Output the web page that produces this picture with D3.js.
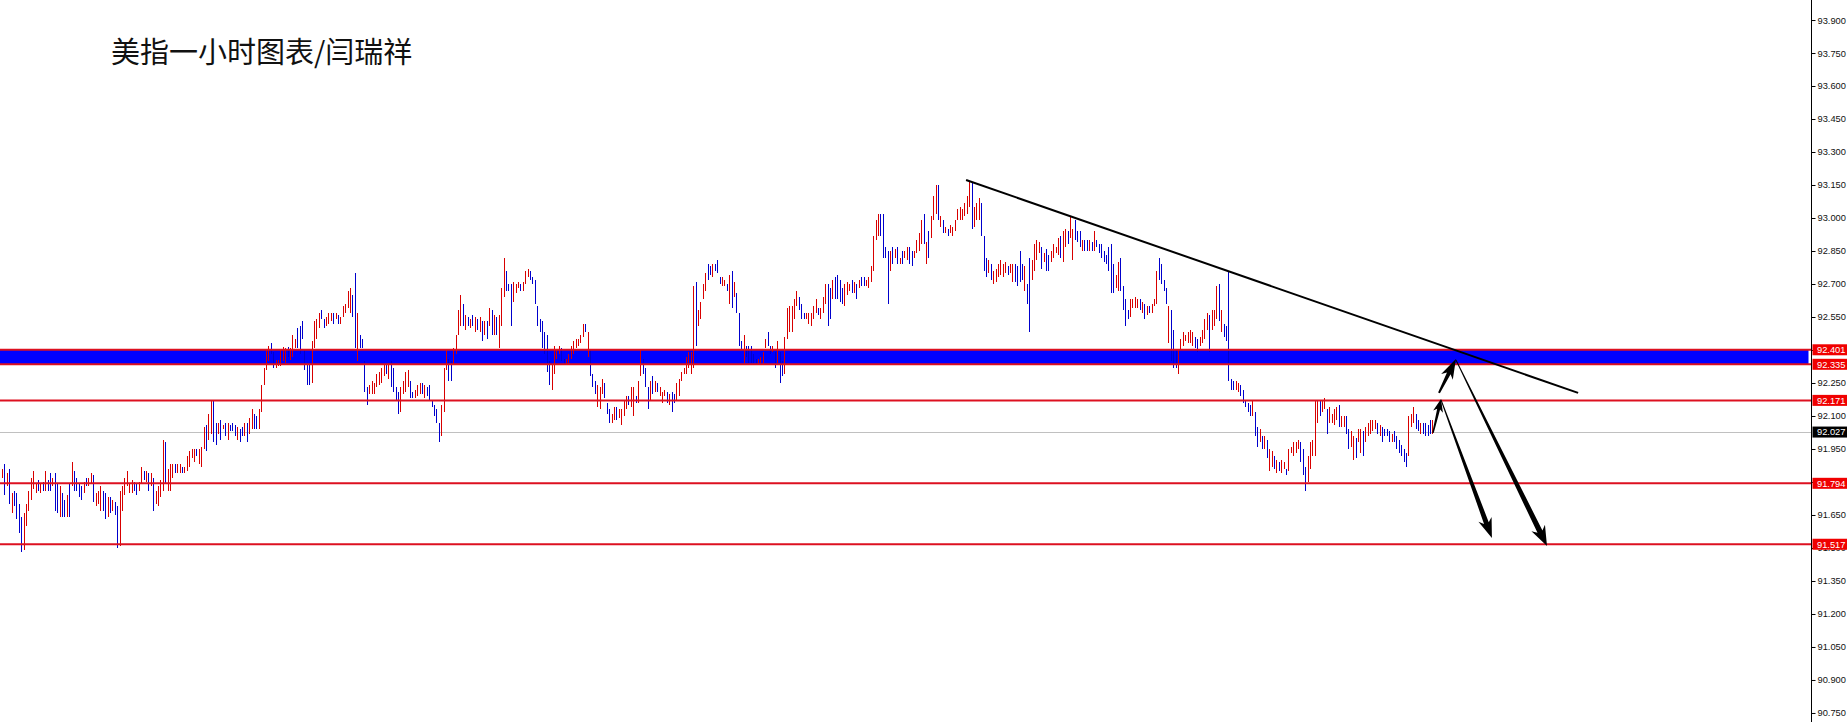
<!DOCTYPE html>
<html><head><meta charset="utf-8">
<script src="https://cdn.jsdelivr.net/npm/d3@7"></script>
<style>html,body{margin:0;padding:0;background:#fff;overflow:hidden}</style>
</head><body>
<svg id="c" width="1847" height="722"></svg>
<script>
const titleText = "美指一小时图表/闫瑞祥";
const barHigh = [
91.86,91.88,91.84,91.86,91.75,91.76,91.75,91.70,91.64,91.66,
91.70,91.76,91.82,91.85,91.79,91.81,91.79,91.80,91.85,91.81,
91.84,91.82,91.84,91.79,91.78,91.75,91.72,91.74,91.79,91.89,
91.85,91.82,91.79,91.78,91.80,91.82,91.82,91.84,91.83,91.75,
91.76,91.78,91.76,91.75,91.73,91.73,91.72,91.71,91.69,91.76,
91.78,91.82,91.85,91.79,91.81,91.80,91.79,91.80,91.87,91.85,
91.85,91.84,91.84,91.82,91.76,91.78,91.81,91.99,91.98,91.86,
91.88,91.88,91.88,91.88,91.88,91.87,91.87,91.92,91.94,91.95,
91.95,91.95,91.95,91.96,92.05,92.06,92.11,92.17,92.17,92.07,
92.07,92.08,92.06,92.07,92.07,92.06,92.07,92.06,92.05,92.04,
92.05,92.07,92.07,92.09,92.13,92.11,92.10,92.13,92.24,92.32,
92.40,92.42,92.43,92.39,92.355,92.355,92.40,92.415,92.41,92.415,
92.41,92.47,92.45,92.50,92.51,92.53,92.40,92.33,92.33,92.44,
92.53,92.54,92.57,92.58,92.54,92.55,92.57,92.57,92.57,92.57,
92.56,92.55,92.60,92.61,92.67,92.68,92.65,92.75,92.57,92.47,
92.45,92.35,92.23,92.24,92.26,92.25,92.29,92.30,92.32,92.33,
92.33,92.34,92.35,92.32,92.23,92.21,92.23,92.26,92.30,92.31,
92.26,92.21,92.22,92.24,92.25,92.25,92.24,92.23,92.24,92.17,
92.15,92.13,92.07,92.15,92.32,92.40,92.36,92.35,92.41,92.47,
92.58,92.65,92.61,92.56,92.55,92.54,92.56,92.55,92.54,92.55,
92.53,92.53,92.53,92.59,92.58,92.56,92.55,92.56,92.68,92.82,
92.76,92.70,92.70,92.71,92.70,92.71,92.70,92.71,92.76,92.77,
92.76,92.73,92.72,92.60,92.54,92.53,92.48,92.47,92.35,92.33,
92.42,92.40,92.42,92.41,92.36,92.36,92.38,92.42,92.44,92.45,
92.45,92.47,92.52,92.52,92.48,92.40,92.29,92.26,92.24,92.23,
92.27,92.25,92.16,92.13,92.11,92.14,92.14,92.13,92.13,92.17,
92.19,92.19,92.23,92.23,92.19,92.26,92.40,92.36,92.32,92.23,
92.26,92.28,92.26,92.25,92.23,92.21,92.22,92.21,92.20,92.21,
92.20,92.25,92.27,92.30,92.32,92.37,92.39,92.39,92.69,92.71,
92.58,92.62,92.70,92.75,92.79,92.78,92.79,92.79,92.81,92.73,
92.73,92.72,92.70,92.74,92.76,92.71,92.66,92.57,92.44,92.47,
92.42,92.42,92.42,92.38,92.36,92.36,92.37,92.39,92.45,92.48,
92.42,92.42,92.39,92.44,92.39,92.35,92.46,92.59,92.60,92.60,
92.63,92.67,92.64,92.61,92.57,92.57,92.57,92.57,92.60,92.63,
92.59,92.59,92.64,92.70,92.70,92.68,92.72,92.73,92.74,92.72,
92.68,92.70,92.71,92.70,92.72,92.71,92.70,92.72,92.73,92.73,
92.72,92.73,92.78,92.92,92.99,93.02,93.02,93.02,92.87,92.85,
92.85,92.87,92.86,92.87,92.82,92.85,92.85,92.87,92.87,92.85,
92.85,92.90,92.93,92.99,93.02,92.89,92.94,93.01,93.10,93.15,
93.15,93.01,92.99,92.96,92.95,92.97,92.96,92.99,93.04,93.05,
93.04,93.07,93.10,93.17,93.16,93.05,93.07,93.09,93.07,92.92,
92.82,92.81,92.79,92.76,92.77,92.79,92.81,92.79,92.80,92.78,
92.79,92.79,92.79,92.78,92.85,92.79,92.78,92.70,92.82,92.81,
92.88,92.90,92.89,92.87,92.84,92.86,92.83,92.85,92.88,92.87,
92.91,92.92,92.94,92.95,92.94,93.01,92.95,92.99,92.94,92.94,
92.90,92.90,92.90,92.90,92.89,92.94,92.90,92.88,92.88,92.85,
92.83,92.87,92.88,92.79,92.74,92.80,92.82,92.69,92.63,92.58,
92.63,92.63,92.64,92.63,92.63,92.62,92.61,92.60,92.60,92.61,
92.63,92.76,92.82,92.79,92.72,92.68,92.60,92.58,92.49,92.40,
92.40,92.45,92.48,92.47,92.48,92.49,92.48,92.46,92.45,92.46,
92.49,92.54,92.57,92.56,92.58,92.58,92.69,92.70,92.58,92.52,
92.51,92.76,92.27,92.26,92.26,92.25,92.24,92.22,92.17,92.16,
92.15,92.17,92.12,92.05,92.04,92.01,92.01,91.99,91.95,91.94,
91.92,91.90,91.89,91.90,91.89,91.86,91.95,91.96,91.98,91.98,
91.99,91.98,91.95,91.87,91.92,91.98,91.99,92.17,92.17,92.17,
92.17,92.18,92.13,92.14,92.11,92.13,92.14,92.15,92.10,92.10,
92.10,92.04,92.03,92.01,92.00,92.04,92.04,92.03,92.05,92.07,
92.08,92.08,92.08,92.07,92.06,92.05,92.04,92.04,92.03,92.02,
92.03,92.01,91.99,91.97,91.95,91.93,92.10,92.11,92.14,92.11,
92.08,92.07,92.07,92.07,92.06,92.08,92.08];
const barLow = [
91.82,91.74,91.78,91.70,91.66,91.69,91.63,91.57,91.48,91.49,
91.60,91.67,91.72,91.77,91.75,91.76,91.75,91.76,91.76,91.76,
91.76,91.78,91.67,91.66,91.64,91.64,91.64,91.64,91.64,91.78,
91.76,91.76,91.73,91.72,91.75,91.78,91.78,91.79,91.71,91.69,
91.70,91.67,91.67,91.63,91.64,91.66,91.67,91.65,91.50,91.51,
91.67,91.74,91.78,91.75,91.75,91.76,91.74,91.76,91.79,91.81,
91.80,91.76,91.78,91.67,91.70,91.69,91.73,91.76,91.79,91.76,
91.76,91.82,91.84,91.84,91.84,91.84,91.84,91.85,91.87,91.91,
91.89,91.92,91.88,91.87,91.95,91.94,91.99,92.02,91.98,91.97,
92.02,91.99,92.04,92.01,91.99,92.03,92.03,92.01,91.99,91.98,
92.01,92.01,91.98,92.02,92.04,92.04,92.04,92.04,92.12,92.24,
92.31,92.35,92.38,92.32,92.32,92.325,92.325,92.35,92.34,92.37,
92.355,92.37,92.41,92.41,92.38,92.45,92.31,92.24,92.24,92.25,
92.41,92.45,92.50,92.54,92.50,92.51,92.52,92.53,92.52,92.54,
92.52,92.52,92.55,92.57,92.59,92.57,92.55,92.41,92.35,92.41,
92.41,92.21,92.15,92.20,92.20,92.20,92.23,92.24,92.25,92.28,
92.29,92.27,92.23,92.21,92.17,92.11,92.12,92.20,92.21,92.23,
92.18,92.18,92.18,92.19,92.20,92.20,92.18,92.19,92.17,92.14,
92.10,92.07,91.98,92.01,92.12,92.31,92.26,92.26,92.33,92.38,
92.47,92.51,92.51,92.49,92.51,92.50,92.51,92.48,92.49,92.48,
92.44,92.47,92.45,92.51,92.47,92.47,92.47,92.41,92.51,92.64,
92.67,92.67,92.51,92.62,92.66,92.68,92.67,92.67,92.70,92.73,
92.72,92.70,92.61,92.51,92.48,92.41,92.38,92.30,92.24,92.22,
92.29,92.36,92.38,92.35,92.33,92.33,92.33,92.36,92.38,92.41,
92.42,92.43,92.46,92.48,92.37,92.28,92.23,92.20,92.14,92.13,
92.20,92.18,92.11,92.07,92.07,92.08,92.08,92.09,92.06,92.10,
92.13,92.15,92.14,92.10,92.16,92.16,92.28,92.29,92.23,92.13,
92.17,92.20,92.21,92.21,92.19,92.16,92.19,92.16,92.15,92.12,
92.16,92.17,92.19,92.26,92.29,92.29,92.32,92.29,92.32,92.42,
92.51,92.54,92.63,92.67,92.72,92.74,92.73,92.76,92.75,92.70,
92.69,92.69,92.67,92.61,92.59,92.64,92.57,92.42,92.40,92.34,
92.37,92.34,92.34,92.34,92.33,92.33,92.34,92.34,92.41,92.42,
92.38,92.39,92.32,92.34,92.25,92.28,92.29,92.45,92.48,92.48,
92.54,92.60,92.58,92.54,92.54,92.54,92.52,92.51,92.54,92.57,
92.56,92.54,92.57,92.61,92.51,92.54,92.63,92.63,92.63,92.62,
92.61,92.60,92.65,92.67,92.66,92.66,92.63,92.68,92.69,92.69,
92.69,92.68,92.71,92.76,92.90,92.92,92.92,92.82,92.82,92.61,
92.76,92.79,92.82,92.79,92.79,92.79,92.82,92.81,92.79,92.78,
92.82,92.84,92.85,92.88,92.88,92.79,92.82,92.91,92.99,93.02,
92.99,92.96,92.93,92.93,92.92,92.93,92.92,92.94,92.99,92.99,
92.99,93.01,93.02,93.05,92.95,92.96,92.99,92.99,92.92,92.76,
92.73,92.75,92.72,92.70,92.71,92.73,92.74,92.73,92.75,92.74,
92.75,92.71,92.71,92.69,92.71,92.72,92.67,92.61,92.48,92.72,
92.76,92.81,92.84,92.77,92.80,92.76,92.76,92.80,92.82,92.84,
92.83,92.82,92.80,92.87,92.88,92.91,92.81,92.90,92.89,92.87,
92.85,92.85,92.85,92.85,92.85,92.85,92.87,92.84,92.82,92.80,
92.79,92.76,92.66,92.66,92.68,92.67,92.67,92.58,92.51,92.54,
92.55,92.59,92.59,92.59,92.58,92.57,92.54,92.56,92.57,92.57,
92.60,92.61,92.72,92.70,92.67,92.61,92.43,92.35,92.32,92.32,
92.29,92.40,92.42,92.44,92.43,92.43,92.42,92.41,92.39,92.42,
92.43,92.45,92.49,92.39,92.49,92.51,92.54,92.53,92.48,92.46,
92.44,92.26,92.22,92.22,92.22,92.21,92.19,92.16,92.14,92.12,
92.10,92.10,92.01,91.96,91.98,91.95,91.95,91.91,91.85,91.87,
91.86,91.84,91.85,91.84,91.86,91.83,91.85,91.93,91.92,91.93,
91.95,91.89,91.83,91.76,91.80,91.86,91.92,91.92,92.07,92.10,
92.12,92.13,92.02,92.07,92.07,92.06,92.08,92.05,92.05,92.05,
92.02,91.95,91.96,91.90,91.91,91.98,91.93,91.92,91.98,92.01,
92.02,92.03,92.04,92.02,92.01,91.98,92.01,92.01,91.98,91.98,
91.98,91.95,91.93,91.92,91.89,91.87,91.92,92.05,92.07,92.04,
92.03,92.02,92.02,92.01,92.01,92.02,92.02];
const barDir = [
"rbrbrbbbbr","rrrrrbrbrb","brbbrbbrbr","bbbbrbrrbr","rrbbrbrbbr","rrrrrbbrrb",
"rbrbrrrrbr","rrbrrbrrrr","rbrrrbrrbb","rbrbrbbbrb","brbrrbbrrr","rrbbrrrrrb",
"rrrbbbbbbr","rrrbbrrrbr","brrrrrbbrb","bbbrrrrrrr","brbbbbrrrr","bbrrrbrbbb",
"bbbrrrbbrr","rrbrbrbrbr","brbrbrbrrr","bbbrrrbrrr","bbbbbbbbbr","rrrbbrrrrr",
"rrrbrbbbrr","rbbbrrbrrr","rbrrbrrbbb","rbrbrrrbrb","brrrrrrrrb","rrrrbbrbbb",
"rrbrbrbbbr","bbbbbrrrrb","brbrbbrrrr","rrbbbrrrrr","brrrbbrbbb","brrrbrbrbb",
"rrrrrrbbbb","rbrbrbrrbb","rrrrbrbrrr","brbrbrrrrr","rrrrbrrrbb","brbrrrrrrb",
"rrbbbbrbbr","rrrbrbbrrr","rbrrbrrbbb","rbbrbrbbbb","bbbbrrbbbb","rrrrbrbrbr",
"rrbbbbrbbb","rrrrrrrbbr","rrrbrrrbrb","bbbbrrbbbb","brbbrbrbrr","brbrrbrrrr",
"rbbbrrrrrb","rrbrrrrbrr","bbrrbrrbrr","rrrbrbbbbr","bbbbbbrrrb","brbbbbr"].join("");

const tickValues = [93.9,93.75,93.6,93.45,93.3,93.15,93.0,92.85,92.7,92.55,92.4,92.25,
  92.1,91.95,91.8,91.65,91.5,91.35,91.2,91.05,90.9,90.75];
const levelPrices = [92.401, 92.335, 92.171, 91.794, 91.517];
const bandPrices = [92.335, 92.401];
const currentPrice = 92.027;
// annotations in [bar index, price]
const trendLine = [[401.7, 93.173], [656.7, 92.205]];
const arrowFrom = [[596.25, 92.023], [598.75, 92.205], [599.6, 92.173], [605.8, 92.355]];
const arrowTo   = [[599.6, 92.177], [605.8, 92.359], [620.8, 91.545], [643.75, 91.509]];

const W = 1847, H = 722, axisX = 1811.5;
const RED = "#d80000", BLUE = "#0000cc", LEVEL = "#dd1020";
const svg = d3.select("#c");
svg.append("rect").attr("width", W).attr("height", H).attr("fill", "#fff");

const y = d3.scaleLinear().domain([90.709, 93.991]).range([H, 0]);
const x = d3.scaleLinear().domain([0, barHigh.length - 1]).range([2, 2 + (barHigh.length - 1) * 2.4]);

// current price line
svg.append("line").attr("x1", 0).attr("x2", axisX).attr("y1", Math.round(y(currentPrice)) + 0.5)
  .attr("y2", Math.round(y(currentPrice)) + 0.5).attr("stroke", "#c0c0c0").attr("stroke-width", 1);

// blue band
svg.append("rect").attr("x", 0).attr("width", axisX - 3)
  .attr("y", y(bandPrices[1])).attr("height", y(bandPrices[0]) - y(bandPrices[1]))
  .attr("fill", "#0000ff");

// bars
svg.append("g").selectAll("line").data(d3.range(barHigh.length)).join("line")
  .attr("x1", i => Math.round(x(i)) + 0.5).attr("x2", i => Math.round(x(i)) + 0.5)
  .attr("y1", i => y(barHigh[i])).attr("y2", i => Math.max(y(barLow[i]), y(barHigh[i]) + 2))
  .attr("stroke", i => barDir[i] === "r" ? RED : BLUE).attr("stroke-width", 1)
  .attr("shape-rendering", "crispEdges");

// level lines
svg.append("g").selectAll("line").data(levelPrices).join("line")
  .attr("x1", 0).attr("x2", axisX).attr("y1", d => y(d)).attr("y2", d => y(d))
  .attr("stroke", LEVEL).attr("stroke-width", 2);

// trend line
svg.append("line")
  .attr("x1", x(trendLine[0][0])).attr("y1", y(trendLine[0][1]))
  .attr("x2", x(trendLine[1][0])).attr("y2", y(trendLine[1][1]))
  .attr("stroke", "#000").attr("stroke-width", 2);

// arrows
const arrowStyle = [
  {w0: 1.5, w1: 3, hw: 10, hl: 13},
  {w0: 2, w1: 4, hw: 13, hl: 20},
  {w0: 1, w1: 5, hw: 14, hl: 20},
  {w0: 1, w1: 5.5, hw: 15, hl: 20}];
function arrowPath(x1, y1, x2, y2, s) {
  const dx = x2 - x1, dy = y2 - y1, L = Math.hypot(dx, dy), ux = dx / L, uy = dy / L, px = -uy, py = ux;
  const bx = x2 - ux * s.hl, by = y2 - uy * s.hl;
  const nx = x2 - ux * s.hl * 0.8, ny = y2 - uy * s.hl * 0.8;
  const pts = [
    [x1 + px * s.w0 / 2, y1 + py * s.w0 / 2],
    [nx + px * s.w1 / 2, ny + py * s.w1 / 2],
    [bx + px * s.hw / 2, by + py * s.hw / 2],
    [x2, y2],
    [bx - px * s.hw / 2, by - py * s.hw / 2],
    [nx - px * s.w1 / 2, ny - py * s.w1 / 2],
    [x1 - px * s.w0 / 2, y1 - py * s.w0 / 2]];
  return "M" + pts.map(p => p[0].toFixed(2) + "," + p[1].toFixed(2)).join("L") + "Z";
}
svg.append("g").selectAll("path").data(d3.range(arrowFrom.length)).join("path")
  .attr("d", i => arrowPath(x(arrowFrom[i][0]), y(arrowFrom[i][1]), x(arrowTo[i][0]), y(arrowTo[i][1]), arrowStyle[i]))
  .attr("fill", "#000");

// axis
const axis = d3.axisRight(y).tickValues(tickValues).tickFormat(d3.format(".3f"))
  .tickSizeInner(4).tickSizeOuter(0).tickPadding(2);
const ag = svg.append("g").attr("transform", `translate(${axisX},0)`).call(axis);
ag.select(".domain").attr("stroke", "#000").attr("d", `M0,0V${H}`);
ag.selectAll(".tick line").attr("stroke", "#000");
ag.selectAll(".tick text").attr("font-family", "'Liberation Sans', Arial, sans-serif")
  .attr("font-size", 9.3).attr("fill", "#111");

// price labels
const labels = levelPrices.map(p => ({p, cur: false})).concat([{p: currentPrice, cur: true}]);
const lg = svg.append("g");
lg.selectAll("rect").data(labels).join("rect")
  .attr("x", axisX + 1).attr("y", d => y(d.p) - 5.5).attr("width", W - axisX).attr("height", 11)
  .attr("fill", d => d.cur ? "#000" : "#f00000");
lg.selectAll("text").data(labels).join("text")
  .attr("x", axisX + 5.5).attr("y", d => y(d.p)).attr("dy", "0.35em")
  .attr("font-family", "'Liberation Sans', Arial, sans-serif").attr("font-size", 9.3)
  .attr("fill", "#fff").text(d => d.p.toFixed(3));

// title
svg.append("text").attr("x", 111).attr("y", 63)
  .attr("font-family", "'Noto Sans CJK SC', sans-serif").attr("font-size", 29)
  .attr("fill", "#111").text(titleText);
</script>
</body></html>
